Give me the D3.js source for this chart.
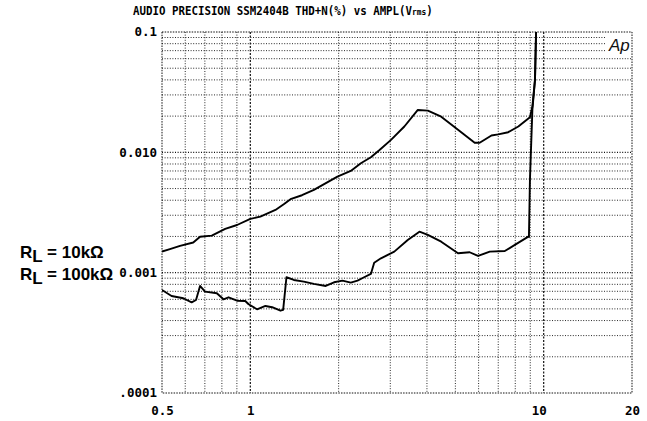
<!DOCTYPE html>
<html><head><meta charset="utf-8">
<script src="https://cdn.jsdelivr.net/npm/d3@7"></script>
<style>
html,body{margin:0;padding:0;background:#fff;}
svg{display:block;}
</style></head>
<body>
<svg id="c" width="647" height="421"></svg>
<script>
// ---- data ----
const titleText = "AUDIO PRECISION SSM2404B THD+N(%) vs AMPL(V";
const xTickValues = [0.5, 1, 10, 20];
const xTickLabels = ["0.5", "1", "10", "20"];
const yTickValues = [0.1, 0.01, 0.001, 0.0001];
const yTickLabels = ["0.1", "0.010", "0.001", ".0001"];
const seriesNames = ["RL = 10k\u03a9", "RL = 100k\u03a9"];

const upperX = [0.5, 0.532, 0.576, 0.639, 0.674, 0.739, 0.821, 0.901, 1.0, 1.082, 1.218, 1.30, 1.371, 1.50, 1.647, 1.981, 2.20, 2.381, 2.576, 2.751, 3.017, 3.35, 3.724, 4.029, 4.474, 5.105, 5.818, 6.05, 6.636, 7.0, 7.57, 8.195, 8.977, 9.15, 9.34, 9.42, 9.5];
const upperY = [0.00150, 0.00157, 0.00167, 0.00178, 0.00199, 0.00203, 0.00231, 0.00249, 0.00280, 0.00292, 0.00332, 0.00370, 0.00408, 0.00440, 0.00487, 0.00628, 0.00700, 0.00812, 0.0091, 0.0104, 0.0127, 0.0164, 0.0225, 0.0222, 0.0198, 0.0154, 0.0120, 0.0120, 0.0138, 0.0141, 0.0147, 0.0164, 0.0196, 0.024, 0.04, 0.1, 0.15];

const lowerX = [0.5, 0.539, 0.591, 0.631, 0.653, 0.674, 0.701, 0.769, 0.810, 0.843, 0.901, 0.961, 0.987, 1.054, 1.126, 1.187, 1.267, 1.294, 1.328, 1.407, 1.522, 1.647, 1.807, 1.929, 2.061, 2.2, 2.319, 2.443, 2.576, 2.644, 2.788, 3.096, 3.44, 3.771, 4.029, 4.474, 5.105, 5.593, 5.975, 6.548, 7.37, 7.975, 8.864, 8.907, 8.977, 9.15, 9.34, 9.42, 9.5];
const lowerY = [0.000718, 0.000640, 0.000613, 0.000567, 0.000593, 0.000775, 0.000695, 0.000674, 0.000601, 0.000624, 0.000585, 0.000582, 0.000546, 0.000496, 0.000529, 0.000516, 0.000483, 0.000490, 0.000916, 0.000870, 0.000842, 0.000806, 0.000775, 0.000832, 0.000858, 0.000826, 0.000858, 0.000916, 0.000976, 0.00121, 0.001317, 0.001495, 0.00187, 0.002192, 0.002058, 0.00181, 0.00145, 0.001478, 0.001377, 0.001495, 0.001515, 0.00170, 0.001993, 0.00198, 0.0059, 0.0225, 0.04, 0.1, 0.15];

// ---- layout ----
const L = 162, R = 632, T = 32, B = 393;
const svg = d3.select("#c");
const x = d3.scaleLog().domain([0.5, 20]).range([L, R]);
const y = d3.scaleLog().domain([0.0001, 0.1]).range([B, T]);

// grid values
const xGrid = [0.6,0.7,0.8,0.9,1,2,3,4,5,6,7,8,9,10];
const yGrid = [];
[0.0001, 0.001, 0.01].forEach(d => { for (let k = 1; k <= 9; k++) { if (k > 1 || d > 0.0001) yGrid.push(+(k*d).toPrecision(3)); } });

const grid = svg.append("g");
grid.selectAll("line.h").data(yGrid).join("line")
  .attr("x1", L).attr("x2", R).attr("y1", d => y(d)).attr("y2", d => y(d))
  .attr("stroke", "#111").attr("stroke-width", d => (d===0.001||d===0.01)?1.1:0.9)
  .attr("stroke-dasharray", "1,1.6");
grid.selectAll("line.v").data(xGrid).join("line")
  .attr("y1", T).attr("y2", B).attr("x1", d => x(d)).attr("x2", d => x(d))
  .attr("stroke", "#111").attr("stroke-width", d => (d===1||d===10)?1.2:0.9)
  .attr("stroke-dasharray", d => (d===1||d===10)?"2,1.5":"1,1.6");
// border
grid.append("rect").attr("x", L).attr("y", T).attr("width", R-L).attr("height", B-T)
  .attr("fill", "none").attr("stroke", "#111").attr("stroke-width", 1).attr("stroke-dasharray", "1.5,1.2");

// Ap logo box
svg.append("rect").attr("x", 606).attr("y", 34).attr("width", 25).attr("height", 21).attr("fill", "#fff");
svg.append("text").attr("x", 609).attr("y", 51).attr("font-family", "Liberation Sans, Arial, sans-serif")
  .attr("font-size", 17).attr("font-style", "italic").attr("fill", "#111").text("Ap");

// curves
svg.append("clipPath").attr("id", "pc").append("rect").attr("x", L).attr("y", T).attr("width", R-L).attr("height", B-T);
const line = d3.line().x(d => x(d[0])).y(d => y(d[1]));
const cg = svg.append("g").attr("clip-path", "url(#pc)");
cg.append("path").datum(upperX.map((v,i)=>[v, upperY[i]])).attr("d", line)
  .attr("fill", "none").attr("stroke", "#000").attr("stroke-width", 1.9).attr("stroke-linejoin", "round");
cg.append("path").datum(lowerX.map((v,i)=>[v, lowerY[i]])).attr("d", line)
  .attr("fill", "none").attr("stroke", "#000").attr("stroke-width", 1.9).attr("stroke-linejoin", "round");

// axes (labels only)
const tickFont = "DejaVu Sans Mono, monospace";
const xAxis = svg.append("g").attr("transform", `translate(0,${B})`)
  .call(d3.axisBottom(x).tickValues(xTickValues).tickSize(0).tickPadding(13)
    .tickFormat((d,i) => xTickLabels[i]));
xAxis.select(".domain").remove();
xAxis.selectAll("text").attr("font-family", tickFont).attr("font-weight", "bold")
  .attr("font-size", 12.5).attr("fill", "#000")
  .attr("dx", (d,i) => i===2 ? -5 : 0);

const yAxis = svg.append("g").attr("transform", `translate(${L-5},0)`)
  .call(d3.axisLeft(y).tickValues(yTickValues).tickSize(0).tickPadding(0)
    .tickFormat((d,i) => yTickLabels[i]));
yAxis.select(".domain").remove();
yAxis.selectAll("text").attr("font-family", tickFont).attr("font-weight", "bold")
  .attr("font-size", 12.5).attr("fill", "#000").attr("dy", "0.3em");

// title (condensed to fit the reference width)
const tg = svg.append("g");
const tt = tg.append("text").attr("x", 0).attr("y", 0)
  .attr("font-family", tickFont).attr("font-weight", "bold").attr("font-size", 13)
  .attr("fill", "#000");
tt.append("tspan").text(titleText);
tt.append("tspan").attr("font-size", 9.5).text("rms");
tt.append("tspan").text(")");
const tw = tt.node().getComputedTextLength();
tg.attr("transform", `translate(133,15) scale(${300/tw},1)`);

// series labels
const lab = svg.append("g").attr("font-family", "Liberation Sans, Arial, sans-serif")
  .attr("font-weight", "bold").attr("font-size", 17).attr("fill", "#000");
[258, 280].forEach((yy, i) => {
  const t = lab.append("text").attr("x", 20).attr("y", yy);
  const parts = seriesNames[i].split(" = ");
  t.append("tspan").text("R");
  t.append("tspan").attr("dy", 4).text("L");
  t.append("tspan").attr("dy", -4).text(" = " + parts[1]);
});
</script>
</body></html>
